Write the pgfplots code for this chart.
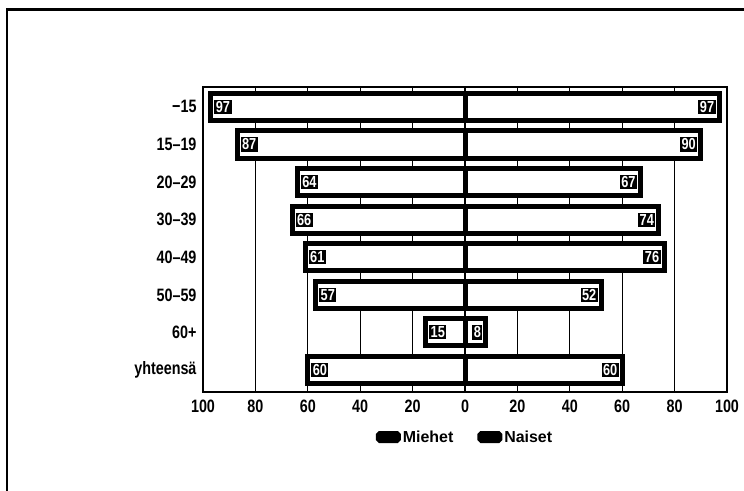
\documentclass[border=0pt]{standalone}
\usepackage{pgfplots}
\pgfplotsset{compat=1.18}
\usepackage{pgfplotstable}
\usepackage{fontspec}
\setmainfont{Liberation Sans}[FakeStretch=0.8]
\newfontfamily\legendfont{Liberation Sans}

\pgfplotstableread{
y men women
0 97 97
1 87 90
2 64 67
3 66 74
4 61 76
5 57 52
6 15 8
7 60 60
}\agedata

\begin{document}
\begin{tikzpicture}
\path[use as bounding box] (0,0) rectangle (744bp,491bp);
\draw[line width=2.2bp] (7bp,0) -- (7bp,481.5bp) -- (744bp,481.5bp);
\begin{axis}[
    at={(203bp,99bp)},
    anchor=south west,
    width=524bp,
    height=305bp,
    scale only axis,
    xmin=-100, xmax=100,
    ymin=-0.53, ymax=7.585,
    y dir=reverse,
    xtick={-100,-80,-60,-40,-20,0,20,40,60,80,100},
    xticklabels={100,80,60,40,20,0,20,40,60,80,100},
    ytick={0,1,2,3,4,5,6,7},
    yticklabels={−15,15–19,20–29,30–39,40–49,50–59,60+,yhteensä},
    major tick length=0pt,
    xmajorgrids,
    grid style={black, line width=1.2bp},
    extra x ticks={0},
    extra x tick labels={},
    extra x tick style={grid style={black, line width=2bp}},
    axis line style={line width=1.5bp},
    tick label style={font=\bfseries\fontsize{18}{18}\selectfont},
    xticklabel style={yshift=-4bp},
    yticklabel style={xshift=-3bp},
    legend columns=2,
    legend style={draw=none, at={(0.5,0)}, anchor=center, yshift=-45bp,
        inner sep=0pt,
        /tikz/every odd column/.append style={inner xsep=0pt},
        /tikz/every even column/.append style={column sep=22bp}},
    legend image code/.code={\fill[black, rounded corners=1.5bp] (0bp,-3.5bp) rectangle (20bp,3.5bp);},
    nodes near coords={\pgfplotspointmeta},
]

\addplot[
    xbar, bar shift=0, bar width=0.72,
    draw=black, fill=white, line width=5bp,
    point meta=explicit symbolic,
    nodes near coords,
    every node near coord/.style={fill=black, text=white, inner sep=1.5bp,
        font=\bfseries\fontsize{16}{16}\selectfont, anchor=west, xshift=1bp},
]
table[x expr=-\thisrow{men}, y=y, meta=men] {\agedata};
\addlegendentry{\legendfont\bfseries\fontsize{16}{16}\selectfont Miehet}

\addplot[
    xbar, bar shift=0, bar width=0.72,
    draw=black, fill=white, line width=5bp,
    point meta=explicit symbolic,
    nodes near coords,
    every node near coord/.style={fill=black, text=white, inner sep=1.5bp,
        font=\bfseries\fontsize{16}{16}\selectfont, anchor=east, xshift=-1bp},
]
table[x=women, y=y, meta=women] {\agedata};
\addlegendentry{\legendfont\bfseries\fontsize{16}{16}\selectfont Naiset}

\end{axis}
\end{tikzpicture}
\end{document}
